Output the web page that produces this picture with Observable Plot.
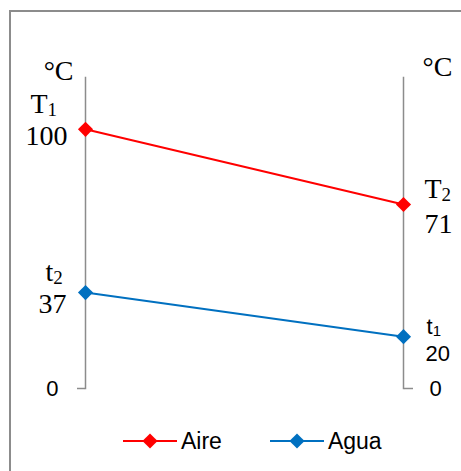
<!DOCTYPE html>
<html><head><meta charset="utf-8">
<script src="https://cdn.jsdelivr.net/npm/d3@7"></script>
<script src="https://cdn.jsdelivr.net/npm/@observablehq/plot@0.6"></script>
<style>
body{margin:0;background:#fff;}
#wrap{position:relative;width:461px;height:471px;overflow:hidden;background:#fff;}
#chart{position:absolute;left:0;top:0;}
#border{position:absolute;left:9px;top:10px;width:700px;height:700px;border-top:2px solid #8c8c8c;border-left:2px solid #8c8c8c;pointer-events:none;}
#legend{position:absolute;left:123px;top:428px;display:flex;align-items:center;font-family:"Liberation Sans",Arial,sans-serif;font-size:23px;color:#000;}
#legend .item{display:flex;align-items:center;}
#legend .item + .item{margin-left:48px;}
#legend svg{display:block;}
#legend span{margin-left:4px;line-height:26px;}
</style></head><body>
<div id="wrap"><div id="chart"></div><div id="legend"></div><div id="border"></div></div>
<script>
// ---- data ----
const sides = ["entrada", "salida"];
const seriesNames = ["Aire", "Agua"];
const aireValues = [100, 71];
const aguaValues = [37, 20];
const aireSymbols = ["T₁", "T₂"];
const aguaSymbols = ["t₂", "t₁"];
const yTicks = [0];
const unitLabel = "°C";
const seriesColors = ["#ff0000", "#0070c0"];
const yDomain = [0, 120];

// ---- table ----
const rows = [];
sides.forEach((s, i) => {
  rows.push({side: s, value: aireValues[i], series: seriesNames[0], symbol: aireSymbols[i], label: String(aireValues[i])});
  rows.push({side: s, value: aguaValues[i], series: seriesNames[1], symbol: aguaSymbols[i], label: String(aguaValues[i])});
});
const find = (si, sideIdx) => rows.filter(r => r.series === seriesNames[si] && r.side === sides[sideIdx]);

const serif = "'Liberation Serif','Times New Roman',serif";
const sans = "'Liberation Sans',Arial,sans-serif";
const axisGray = "#8c8c8c";
const SERIF_SIZE = 28;

function lab(data, field, o) {
  return Plot.text(data, {x: "side", y: "value", text: field, lineAnchor: "bottom", fill: "black", ...o});
}

const chart = Plot.plot({
  width: 461,
  height: 410,
  marginTop: 77,
  marginBottom: 22,
  marginLeft: 85,
  marginRight: 58,
  style: {background: "transparent", overflow: "visible"},
  x: {type: "point", domain: sides, padding: 0, axis: null},
  y: {domain: yDomain, axis: null},
  color: {domain: seriesNames, range: seriesColors},
  marks: [
    Plot.frame({anchor: "left", stroke: axisGray, strokeWidth: 1.5}),
    Plot.frame({anchor: "right", stroke: axisGray, strokeWidth: 1.5}),
    Plot.axisY({anchor: "left", ticks: yTicks, tickSize: 8, tickPadding: 19, fontSize: 22, fontFamily: sans, stroke: axisGray, strokeWidth: 1.5, fill: "black", label: null, tickFormat: d => String(d)}),
    Plot.axisY({anchor: "right", ticks: yTicks, tickSize: 9, tickPadding: 17, fontSize: 22, fontFamily: sans, stroke: axisGray, strokeWidth: 1.5, fill: "black", label: null, tickFormat: d => String(d)}),
    Plot.line(rows, {x: "side", y: "value", z: "series", stroke: "series", strokeWidth: 2}),
    Plot.dot(rows, {x: "side", y: "value", fill: "series", symbol: "diamond2", r: 6.8}),
    // unit labels
    Plot.text([{side: sides[0], value: yDomain[1]}], {x: "side", y: "value", text: () => unitLabel, textAnchor: "end", lineAnchor: "bottom", dx: -12, dy: 2, fontFamily: serif, fontSize: SERIF_SIZE, fill: "black"}),
    Plot.text([{side: sides[1], value: yDomain[1]}], {x: "side", y: "value", text: () => unitLabel, textAnchor: "start", lineAnchor: "bottom", dx: 19, dy: -2, fontFamily: serif, fontSize: SERIF_SIZE, fill: "black"}),
    // Aire, left
    lab(find(0, 0), "symbol", {textAnchor: "start", dx: -55, dy: -16, fontFamily: serif, fontSize: SERIF_SIZE}),
    lab(find(0, 0), "label", {textAnchor: "end", dx: -18, dy: 16, fontFamily: serif, fontSize: SERIF_SIZE}),
    // Agua, left
    lab(find(1, 0), "symbol", {textAnchor: "start", dx: -40, dy: -12, fontFamily: serif, fontSize: SERIF_SIZE}),
    lab(find(1, 0), "label", {textAnchor: "end", dx: -19, dy: 20, fontFamily: serif, fontSize: SERIF_SIZE}),
    // Aire, right
    lab(find(0, 1), "symbol", {textAnchor: "start", dx: 21, dy: -6, fontFamily: serif, fontSize: SERIF_SIZE}),
    lab(find(0, 1), "label", {textAnchor: "start", dx: 21, dy: 29, fontFamily: serif, fontSize: SERIF_SIZE}),
    // Agua, right
    lab(find(1, 1), "symbol", {textAnchor: "start", dx: 23, dy: -3, fontFamily: sans, fontSize: 22}),
    lab(find(1, 1), "label", {textAnchor: "start", dx: 22, dy: 24, fontFamily: sans, fontSize: 22})
  ]
});
document.getElementById("chart").appendChild(chart);

// subscripts: render "X₁" as X + smaller lowered digit
const subMap = {"₀":"0","₁":"1","₂":"2","₃":"3","₄":"4","₅":"5","₆":"6","₇":"7","₈":"8","₉":"9"};
d3.select(chart).selectAll("text").each(function() {
  const el = this;
  if (el.childElementCount) return;
  const t = el.textContent;
  const m = t.match(/^(.+?)([₀-₉]+)$/);
  if (!m) return;
  const base = m[1], sub = m[2].split("").map(c => subMap[c]).join("");
  el.textContent = "";
  const fs = parseFloat(getComputedStyle(el).fontSize) || 22;
  d3.select(el).append("tspan").text(base);
  d3.select(el).append("tspan").text(sub).attr("font-size", Math.round(fs * 0.68)).attr("dy", Math.round(fs * 0.1));
});

// ---- legend ----
const legend = d3.select("#legend");
const diamond = d3.symbol().type(d3.symbolDiamond2).size(Math.PI * 6.8 * 6.8)();
seriesNames.forEach((name, i) => {
  const item = legend.append("div").attr("class", "item");
  const svg = item.append("svg").attr("width", 54).attr("height", 26);
  svg.append("line").attr("x1", 0).attr("x2", 54).attr("y1", 13).attr("y2", 13)
    .attr("stroke", seriesColors[i]).attr("stroke-width", 2);
  svg.append("path").attr("d", diamond).attr("transform", "translate(27,13)").attr("fill", seriesColors[i]);
  item.append("span").text(name);
});
</script>
</body></html>
